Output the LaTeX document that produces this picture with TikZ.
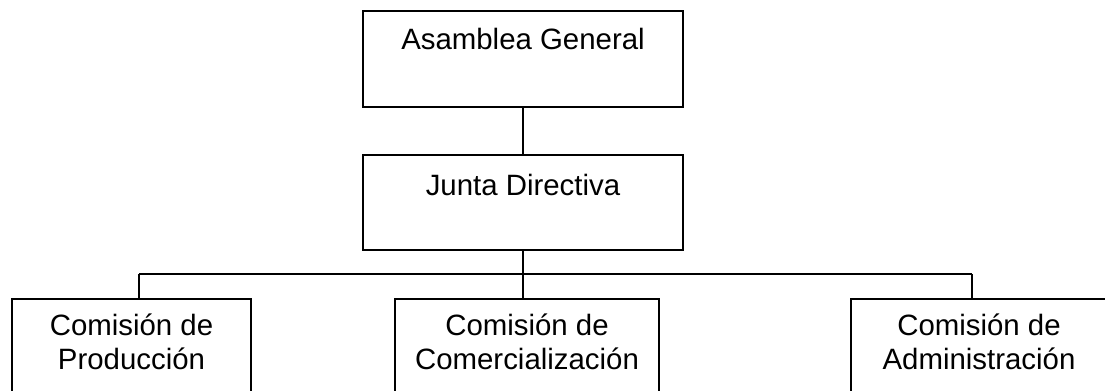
\documentclass[tikz,border=0pt]{standalone}
\usepackage{fontspec}
\setmainfont{Liberation Sans}
\usepackage{tikz}

\begin{document}
\begin{tikzpicture}[x=0.5pt,y=-0.5pt,
    caja/.style={draw=black, line width=0.9pt, inner sep=0pt,
        font=\fontsize{14.7}{17}\selectfont},
    cajacomision/.style={caja, anchor=north, align=center,
        text height=35.5pt, text depth=24.5pt}]
                \path[use as bounding box, clip] (0,0) rectangle (1105,391);
                % niveles superiores
                \node [caja, minimum width=160pt, text height=19.25pt, text depth=28.75pt] (asamblea) at (523,59) {Asamblea General};
                \node [caja, minimum width=160pt, text height=20pt, text depth=27.5pt] (junta) at (523,202.5) {Junta Directiva};
                \draw [line width=0.9pt] (asamblea.south) -- (junta.north);
                % comisiones
                \node [cajacomision, minimum width=119.5pt] (produccion) at (131.5,298) {Comisión de\\Producción};
                \node [cajacomision, minimum width=132pt] (comercial) at (527,298) {Comisión de\\Comercialización};
                \node [cajacomision, minimum width=128pt] (administ) at (979,298) {Comisión de\\Administración};
                \coordinate (bus) at (523,274);
                \coordinate (busprod) at (139,274);
                \coordinate (busadm) at (972,274);
                \draw [line width=0.9pt] (junta.south) -- (bus);
                \draw [line width=0.9pt] (busprod) -- (busadm);
                \draw [line width=0.9pt] (busprod) -- (busprod |- produccion.north);
                \draw [line width=0.9pt] (bus) -- (bus |- comercial.north);
                \draw [line width=0.9pt] (busadm) -- (busadm |- administ.north);
\end{tikzpicture}
\end{document}
